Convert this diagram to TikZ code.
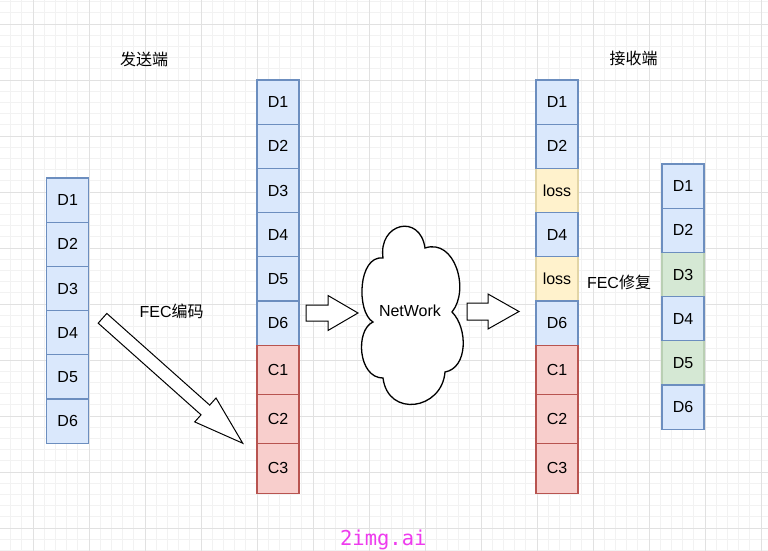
\documentclass[tikz,border=0pt]{standalone}
\usepackage{fontspec}
\setmainfont{Liberation Sans}
\newfontfamily\cjk{Noto Sans CJK SC}
\newfontfamily\markfont{DejaVu Sans Mono}
\usetikzlibrary{positioning, backgrounds}

\definecolor{datafill}{HTML}{DAE8FC}
\definecolor{dataedge}{HTML}{6C8EBF}
\definecolor{checkfill}{HTML}{F8CECC}
\definecolor{checkedge}{HTML}{B85450}
\definecolor{lostfill}{HTML}{FFF2CC}
\definecolor{lostedge}{HTML}{E2D5A6}
\definecolor{fixfill}{HTML}{D5E8D4}
\definecolor{fixedge}{HTML}{B9CFB3}
\definecolor{gridminor}{HTML}{F2F2F2}
\definecolor{gridmajor}{HTML}{E1E1E1}
\definecolor{markpink}{HTML}{EE3BEE}

\begin{document}
\begin{tikzpicture}[
  x=1bp, y=-1bp,
  font=\fontsize{16bp}{19bp}\selectfont,
  node distance=0pt,
  %% --- styles ---
  cell/.style={
    draw, line width=1.2bp, inner sep=0pt, outer sep=0pt,
    minimum width=42bp, minimum height=44.2bp
  },
  data/.style={cell, draw=dataedge, fill=datafill},
  check/.style={cell, draw=checkedge, fill=checkfill, minimum height=49.3bp},
  lost/.style={cell, draw=lostedge, fill=lostfill},
  fixed/.style={cell, draw=fixedge, fill=fixfill},
  title/.style={font=\fontsize{16bp}{19bp}\selectfont\cjk},
  blockarrow/.style={draw=black, fill=white, line width=1bp, line join=miter},
  cloudline/.style={draw=black, fill=white, line width=1.3bp},
  pics/fatarrow/.style n args={4}{code={
    \draw[blockarrow] (0,-#2) -- ({#1-#4},-#2) -- ({#1-#4},-#3) -- (#1,0)
      -- ({#1-#4},#3) -- ({#1-#4},#2) -- (0,#2) -- cycle;
  }}
]
  \useasboundingbox (0,0) rectangle (768,551);

  %% --- grid paper ---
  \begin{scope}[on background layer]
    \fill[white] (0,0) rectangle (768,551);
    \foreach \i in {0,...,67} \draw[gridminor, line width=0.8bp] ({10.6+11.2*\i},0) -- ({10.6+11.2*\i},551);
    \foreach \j in {0,...,49} \draw[gridminor, line width=0.8bp] (0,{1.6+11.2*\j}) -- (768,{1.6+11.2*\j});
    \foreach \i in {0,...,13} \draw[gridmajor, line width=0.9bp] ({33+56*\i},0) -- ({33+56*\i},551);
    \foreach \j in {0,...,9} \draw[gridmajor, line width=0.9bp] (0,{24+56*\j}) -- (768,{24+56*\j});
  \end{scope}

  %% --- 1. source packets ---
  \node[title] (SendTitle) at (144,59) {发送端};
  \node[data] (SrcD1) at (67.7,200.1) {D1};
  \node[data, below=of SrcD1] (SrcD2) {D2};
  \node[data, below=of SrcD2] (SrcD3) {D3};
  \node[data, below=of SrcD3] (SrcD4) {D4};
  \node[data, below=of SrcD4] (SrcD5) {D5};
  \node[data, below=of SrcD5] (SrcD6) {D6};

  % encoding arrow
  \coordinate (EncTail) at (102.5,318.3);
  \pic[rotate=-41.7] at (EncTail) {fatarrow={187.8}{6.5}{16}{50}};
  \node (EncLabel) at (171.7,311) {FEC{\cjk 编码}};

  %% --- 2. encoded packets ---
  \node[data] (EncD1) at (278,102.1) {D1};
  \node[data, below=of EncD1] (EncD2) {D2};
  \node[data, below=of EncD2] (EncD3) {D3};
  \node[data, below=of EncD3] (EncD4) {D4};
  \node[data, below=of EncD4] (EncD5) {D5};
  \node[data, below=of EncD5] (EncD6) {D6};
  \node[check, below=of EncD6] (EncC1) {C1};
  \node[check, below=of EncC1] (EncC2) {C2};
  \node[check, below=of EncC2] (EncC3) {C3};

  %% --- 3. network ---
  \coordinate (SendTail) at (306,313);
  \pic at (SendTail) {fatarrow={52}{8}{17.5}{30}};

  \draw[cloudline] (383,258) .. controls (378,223) and (420,213) .. (425,248)
    .. controls (455,238) and (470,290) .. (452,312)
    .. controls (468,328) and (468,368) .. (445,372)
    .. controls (442,410) and (388,418) .. (383,378)
    .. controls (358,378) and (355,330) .. (373,322)
    .. controls (356,312) and (358,255) .. (383,258) -- cycle;
  \node (Net) at (410,311) {NetWork};

  \coordinate (RecvTail) at (467,311.5);
  \pic at (RecvTail) {fatarrow={52}{8.5}{17.5}{31}};

  %% --- 4. received packets ---
  \node[title] (RecvTitle) at (633.7,58.5) {接收端};
  \node[data] (RecvD1) at (557,102.1) {D1};
  \node[data, below=of RecvD1] (RecvD2) {D2};
  \begin{scope}[on background layer]
    \node[lost, below=of RecvD2] (RecvL3) {loss};
  \end{scope}
  \node[data, below=of RecvL3] (RecvD4) {D4};
  \begin{scope}[on background layer]
    \node[lost, below=of RecvD4] (RecvL5) {loss};
  \end{scope}
  \node[data, below=of RecvL5] (RecvD6) {D6};
  \node[check, below=of RecvD6] (RecvC1) {C1};
  \node[check, below=of RecvC1] (RecvC2) {C2};
  \node[check, below=of RecvC2] (RecvC3) {C3};

  \node (FixLabel) at (619,282.5) {FEC{\cjk 修复}};

  %% --- 5. repaired packets ---
  \node[data] (FixD1) at (683,186.1) {D1};
  \node[data, below=of FixD1] (FixD2) {D2};
  \begin{scope}[on background layer]
    \node[fixed, below=of FixD2] (FixD3) {D3};
  \end{scope}
  \node[data, below=of FixD3] (FixD4) {D4};
  \begin{scope}[on background layer]
    \node[fixed, below=of FixD4] (FixD5) {D5};
  \end{scope}
  \node[data, below=of FixD5] (FixD6) {D6};

  % watermark
  \node[font=\fontsize{20.5bp}{24bp}\selectfont\markfont, text=markpink, anchor=base] (Mark) at (383.3,545) {2img.ai};

\end{tikzpicture}
\end{document}
